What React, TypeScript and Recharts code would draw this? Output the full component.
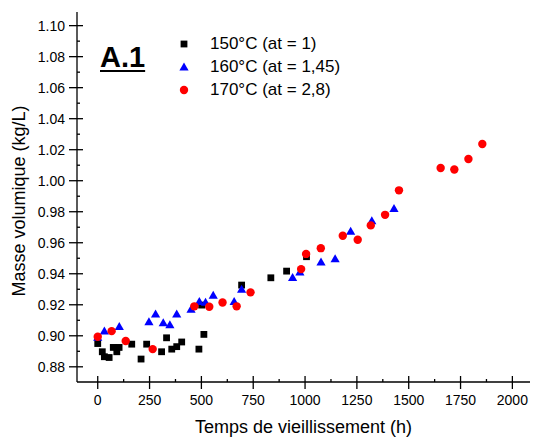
import { Legend, Label, Scatter, ScatterChart, XAxis, YAxis } from 'recharts'

const FONT = '"Liberation Sans", Arial, sans-serif'

const hours150 = [0, 22, 32, 55, 75, 92, 103, 164, 209, 236, 308, 332, 357, 381, 405, 488, 512, 501, 694, 835, 911, 1007]
const density150 = [0.895, 0.8897, 0.8865, 0.886, 0.8925, 0.8897, 0.8925, 0.8946, 0.885, 0.8946, 0.8897, 0.8987, 0.8914, 0.893, 0.896, 0.8914, 0.9009, 0.9198, 0.9327, 0.9374, 0.9417, 0.951]

const hours160 = [0, 32, 104, 247, 279, 316, 348, 381, 450, 490, 520, 557, 658, 694, 940, 975, 1077, 1145, 1220, 1322, 1429]
const density160 = [0.899, 0.903, 0.906, 0.909, 0.914, 0.9084, 0.907, 0.914, 0.917, 0.922, 0.9215, 0.926, 0.922, 0.93, 0.9375, 0.941, 0.9475, 0.9496, 0.9673, 0.9742, 0.982]

const hours170 = [0, 67, 135, 265, 466, 538, 602, 670, 737, 981, 1005, 1076, 1182, 1254, 1317, 1386, 1453, 1654, 1720, 1788, 1855]
const density170 = [0.8994, 0.903, 0.8966, 0.8914, 0.919, 0.9187, 0.9215, 0.919, 0.928, 0.943, 0.9528, 0.9565, 0.9645, 0.9619, 0.9712, 0.978, 0.9938, 1.0082, 1.0072, 1.014, 1.0237]

const seriesNames = ['150°C (at = 1)', '160°C (at = 1,45)', '170°C (at = 2,8)']

const xTicks = [0, 125, 250, 375, 500, 625, 750, 875, 1000, 1125, 1250, 1375, 1500, 1625, 1750, 1875, 2000]
const yTicks = [0.88, 0.89, 0.9, 0.91, 0.92, 0.93, 0.94, 0.95, 0.96, 0.97, 0.98, 0.99, 1.0, 1.01, 1.02, 1.03, 1.04, 1.05, 1.06, 1.07, 1.08, 1.09, 1.1]

const toPoints = (xs: number[], ys: number[]) => xs.map((h, i) => ({ h, d: ys[i] }))

const isMajorX = (v: number) => v % 250 === 0
const isMajorY = (v: number) => Math.round(v * 100) % 2 === 0

const BottomTick = ({ x, y, payload }: any) => {
  const major = isMajorX(payload.value)
  return (
    <g>
      <line x1={x} x2={x} y1={y - (major ? 6 : 3)} y2={y + (major ? 7 : 0)} stroke="#000" strokeWidth={1.3} />
      {major && (
        <text x={x} y={y + 23} textAnchor="middle" fontSize={14} fontFamily={FONT} fill="#000">
          {payload.value}
        </text>
      )}
    </g>
  )
}

const TopTick = ({ x, y, payload }: any) => {
  const major = isMajorX(payload.value)
  return <line x1={x} x2={x} y1={y - (major ? 7 : 0)} y2={y + (major ? 6 : 3)} stroke="#000" strokeWidth={1.3} />
}

const LeftTick = ({ x, y, payload }: any) => {
  const major = isMajorY(payload.value)
  return (
    <g>
      <line x1={x - (major ? 8 : 0)} x2={x + (major ? 6 : 3)} y1={y} y2={y} stroke="#000" strokeWidth={1.3} />
      {major && (
        <text x={x - 12} y={y + 5} textAnchor="end" fontSize={14} fontFamily={FONT} fill="#000">
          {payload.value.toFixed(2)}
        </text>
      )}
    </g>
  )
}

const RightTick = ({ x, y, payload }: any) => {
  const major = isMajorY(payload.value)
  return <line x1={x - (major ? 6 : 3)} x2={x + (major ? 8 : 0)} y1={y} y2={y} stroke="#000" strokeWidth={1.3} />
}

const Square = ({ cx, cy }: any) => <rect x={cx - 3.4} y={cy - 3.4} width={6.8} height={6.8} fill="#000" />
const Triangle = ({ cx, cy }: any) => (
  <polygon points={`${cx},${cy - 4.6} ${cx + 4.6},${cy + 3.4} ${cx - 4.6},${cy + 3.4}`} fill="#0000ff" />
)
const Dot = ({ cx, cy }: any) => <circle cx={cx} cy={cy} r={4.2} fill="#ff0000" />

const legendIcons = [<Square cx={7} cy={7} />, <Triangle cx={7} cy={7} />, <Dot cx={7} cy={7} />]

const LegendBox = () => (
  <div style={{ fontFamily: FONT, fontSize: 17, color: '#000' }}>
    {seriesNames.map((name, i) => (
      <div key={name} style={{ display: 'flex', alignItems: 'center', height: 23 }}>
        <svg width={14} height={14} style={{ marginRight: 19 }}>
          {legendIcons[i]}
        </svg>
        <span>{name}</span>
      </div>
    ))}
  </div>
)

export default function App() {
  return (
    <div style={{ position: 'absolute', left: 0, top: 0, width: 538, height: 441, background: '#fff' }}>
      <ScatterChart width={538} height={441} margin={{ top: 12, right: 8, bottom: 0, left: 0 }}>
        <XAxis
          xAxisId="bottom"
          type="number"
          dataKey="h"
          domain={[-100, 2085]}
          ticks={xTicks}
          interval={0}
          height={59}
          tickSize={0}
          tickMargin={0}
          tickLine={false}
          tick={<BottomTick />}
          axisLine={{ stroke: '#000', strokeWidth: 1.3 }}
        >
          <Label
            content={({ viewBox }: any) => (
              <text x={viewBox.x + viewBox.width / 2} y={viewBox.y + 51} textAnchor="middle" fontSize={18} fontFamily={FONT} fill="#000">
                Temps de vieillissement (h)
              </text>
            )}
          />
        </XAxis>
        <XAxis
          xAxisId="top"
          orientation="top"
          type="number"
          dataKey="h"
          domain={[-100, 2085]}
          ticks={xTicks}
          interval={0}
          height={0}
          tickSize={0}
          tickMargin={0}
          tickLine={false}
          tick={<TopTick />}
          axisLine={{ stroke: '#000', strokeWidth: 1.3 }}
        />
        <YAxis
          yAxisId="left"
          type="number"
          dataKey="d"
          domain={[0.8702, 1.1088]}
          ticks={yTicks}
          interval={0}
          width={77}
          tickSize={0}
          tickMargin={0}
          tickLine={false}
          tick={<LeftTick />}
          axisLine={{ stroke: '#000', strokeWidth: 1.3 }}
        >
          <Label
            content={({ viewBox }: any) => {
              const cx = 25
              const cy = viewBox.y + viewBox.height / 2 + 4
              return (
                <text x={cx} y={cy} transform={`rotate(-90 ${cx} ${cy})`} textAnchor="middle" fontSize={18} fontFamily={FONT} fill="#000">
                  Masse volumique (kg/L)
                </text>
              )
            }}
          />
        </YAxis>
        <YAxis
          yAxisId="right"
          orientation="right"
          type="number"
          dataKey="d"
          domain={[0.8702, 1.1088]}
          ticks={yTicks}
          interval={0}
          width={0}
          tickSize={0}
          tickMargin={0}
          tickLine={false}
          tick={<RightTick />}
          axisLine={{ stroke: '#000', strokeWidth: 1.3 }}
        />
        <Scatter xAxisId="bottom" yAxisId="left" name={seriesNames[0]} data={toPoints(hours150, density150)} shape={<Square />} isAnimationActive={false} />
        <Scatter xAxisId="bottom" yAxisId="left" name={seriesNames[1]} data={toPoints(hours160, density160)} shape={<Triangle />} isAnimationActive={false} />
        <Scatter xAxisId="bottom" yAxisId="left" name={seriesNames[2]} data={toPoints(hours170, density170)} shape={<Dot />} isAnimationActive={false} />
        <Legend
          layout="vertical"
          align="center"
          verticalAlign="middle"
          content={<LegendBox />}
          wrapperStyle={{ left: 177, top: 32, width: 200, height: 70 }}
        />
      </ScatterChart>
      <div
        style={{
          position: 'absolute',
          left: 100,
          top: 40,
          fontFamily: FONT,
          fontSize: 29,
          fontWeight: 'bold',
          textDecoration: 'underline',
          textDecorationThickness: 2,
          textUnderlineOffset: 3,
          color: '#000',
          lineHeight: '34px',
        }}
      >
        A.1
      </div>
    </div>
  )
}
